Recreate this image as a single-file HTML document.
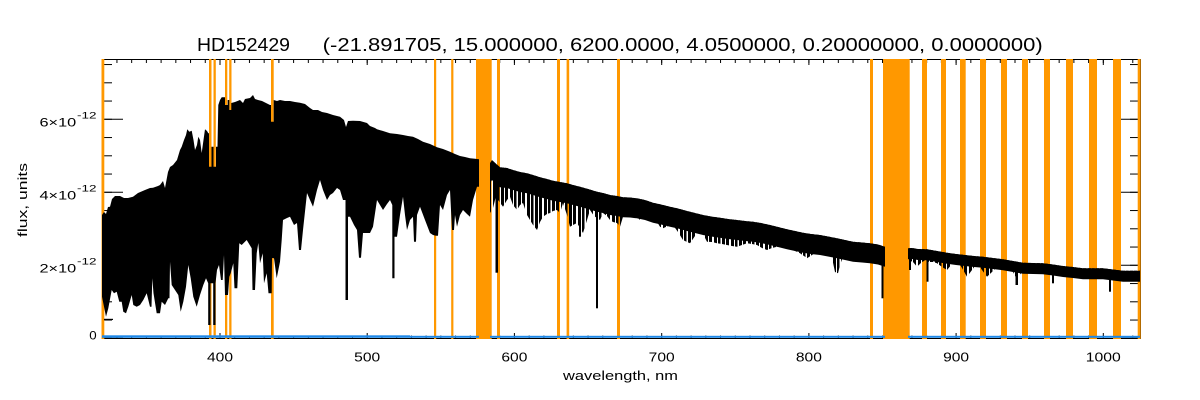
<!DOCTYPE html>
<html><head><meta charset="utf-8"><style>
html,body{margin:0;padding:0;background:#fff;}
svg{display:block;}
text{font-family:"Liberation Sans",sans-serif;fill:#000;}
</style></head><body>
<svg width="1200" height="400" viewBox="0 0 1200 400" xmlns="http://www.w3.org/2000/svg" xmlns:xlink="http://www.w3.org/1999/xlink">
<defs>
<pattern id="xt" patternUnits="userSpaceOnUse" x="101.72" y="0" width="14.7222" height="400"><rect x="0" y="0" width="1" height="400" fill="#000"/></pattern>
<pattern id="yt" patternUnits="userSpaceOnUse" x="0" y="337.8" width="1200" height="18.25"><rect x="0" y="0" width="1200" height="1" fill="#000"/></pattern>
<pattern id="comb" patternUnits="userSpaceOnUse" x="0" y="0" width="17" height="400">
<rect x="0" y="0" width="3" height="400" fill="#000"/>
<rect x="4" y="0" width="2.5" height="400" fill="#000"/>
<rect x="8" y="0" width="3" height="400" fill="#000"/>
<rect x="12" y="0" width="3" height="400" fill="#000"/>
</pattern>
<path id="UB" d="M490,163.3 L492,160 494,162 500,167.3 507,168 513,170 520,172 527,173.3 533,175 540,177.3 547,179 553,180.7 560,182 567,183.3 573,185 580,186.7 588,189 597,191.7 603,193 610,195 617,196 623,197.3 630,197.5 636.7,198.3 645,200 653,202.7 661,204.5 670,206.7 678,208.5 687,211 695,213 703,215 711,216.5 720,217.7 728,219 737,220 745,221 753,221.7 761,223 770,225 778,227 787,229.3 795,231 803,232.7 811,234 820,235 828,236.5 837,238.3 845,240 853,241.7 862,242.5 870,243.3 878,244.5 885,246.7 L885,400 L490,400 Z"/>
<path id="UC" d="M908,248.3 L912,248 918,249 927,249.3 937,251 947,252.7 956,254 965,255 974,256 983,256.7 993,258 1003,259.3 1013,261 1023,262.7 1033,263 1043,263.3 1053,264.5 1063,266 1073,267 1083,268.3 1093,268.3 1103,268.3 1113,269.5 1123,270.7 1131,270.7 1140,270.7 L1140,400 L908,400 Z"/>
<mask id="bandB" maskUnits="userSpaceOnUse" x="0" y="0" width="1200" height="400">
<use xlink:href="#UB" href="#UB" fill="#fff"/>
<use xlink:href="#UB" href="#UB" fill="#000" transform="translate(0,20)"/>
</mask>
<mask id="bandC" maskUnits="userSpaceOnUse" x="0" y="0" width="1200" height="400">
<use xlink:href="#UC" href="#UC" fill="#fff"/>
<use xlink:href="#UC" href="#UC" fill="#000" transform="translate(0,11)"/>
</mask>
</defs>
<rect width="1200" height="400" fill="#fff"/>

<!-- title -->
<text x="197" y="51" font-size="18" textLength="93" lengthAdjust="spacingAndGlyphs">HD152429</text>
<text x="322.7" y="51" font-size="18" textLength="720" lengthAdjust="spacingAndGlyphs">(-21.891705, 15.000000, 6200.0000, 4.0500000, 0.20000000, 0.0000000)</text>

<!-- axes box -->
<rect x="102.5" y="59.5" width="1038" height="279" fill="none" stroke="#000" stroke-width="1"/>
<!-- minor ticks -->
<rect x="102" y="335.5" width="1038" height="3" fill="url(#xt)"/>
<rect x="102" y="60" width="1038" height="3" fill="url(#xt)"/>
<rect x="102" y="60" width="10" height="279" fill="url(#yt)"/>
<rect x="1130" y="60" width="10" height="279" fill="url(#yt)"/>
<!-- major ticks -->
<path d="M220,339V333M367.2,339V333M514.4,339V333M661.7,339V333M808.9,339V333M956.1,339V333M1103.3,339V333
M220,59V65M367.2,59V65M514.4,59V65M661.7,59V65M808.9,59V65M956.1,59V65M1103.3,59V65
M102,119.3H123M102,192.3H123M102,265.3H123M102,338.3H123
M1140,119.3H1119M1140,192.3H1119M1140,265.3H1119M1140,338.3H1119" stroke="#000" stroke-width="1" fill="none"/>

<!-- tick labels -->
<g font-size="13" text-anchor="middle">
<text x="220" y="361.5" textLength="26" lengthAdjust="spacingAndGlyphs">400</text>
<text x="367.2" y="361.5" textLength="26" lengthAdjust="spacingAndGlyphs">500</text>
<text x="514.4" y="361.5" textLength="26" lengthAdjust="spacingAndGlyphs">600</text>
<text x="661.7" y="361.5" textLength="26" lengthAdjust="spacingAndGlyphs">700</text>
<text x="808.9" y="361.5" textLength="26" lengthAdjust="spacingAndGlyphs">800</text>
<text x="956.1" y="361.5" textLength="26" lengthAdjust="spacingAndGlyphs">900</text>
<text x="1103.3" y="361.5" textLength="35" lengthAdjust="spacingAndGlyphs">1000</text>
</g>
<g font-size="12">
<text x="39.5" y="126.7" textLength="36.7" lengthAdjust="spacingAndGlyphs">6×10</text>
<text x="77" y="118.5" font-size="9" textLength="19.5" lengthAdjust="spacingAndGlyphs">-12</text>
<text x="39.5" y="199.7" textLength="36.7" lengthAdjust="spacingAndGlyphs">4×10</text>
<text x="77" y="191.5" font-size="9" textLength="19.5" lengthAdjust="spacingAndGlyphs">-12</text>
<text x="39.5" y="272.7" textLength="36.7" lengthAdjust="spacingAndGlyphs">2×10</text>
<text x="77" y="264.5" font-size="9" textLength="19.5" lengthAdjust="spacingAndGlyphs">-12</text>
<text x="89.3" y="339.3" textLength="7.4" lengthAdjust="spacingAndGlyphs">0</text>
</g>
<text x="563" y="380" font-size="13" textLength="115" lengthAdjust="spacingAndGlyphs">wavelength, nm</text>
<text transform="translate(27,237) rotate(-90)" x="0" y="0" font-size="13" textLength="74" lengthAdjust="spacingAndGlyphs">flux, units</text>

<!-- orange bands -->
<g fill="#ff9800">
<rect x="101.5" y="59" width="2.8" height="280"/>
<rect x="209" y="59" width="2.5" height="280"/>
<rect x="213.5" y="59" width="2.3" height="280"/>
<rect x="225" y="59" width="2.3" height="280"/>
<rect x="229.2" y="59" width="2.3" height="280"/>
<rect x="271" y="59" width="2.7" height="280"/>
<rect x="434" y="59" width="2.2" height="280"/>
<rect x="451.2" y="59" width="2.2" height="280"/>
<rect x="476" y="59" width="15.7" height="280"/>
<rect x="497" y="59" width="3" height="280"/>
<rect x="557" y="59" width="3" height="280"/>
<rect x="566.6" y="59" width="2.6" height="280"/>
<rect x="617" y="59" width="3" height="280"/>
<rect x="870" y="59" width="3" height="280"/>
<rect x="883" y="59" width="26.7" height="280"/>
<rect x="922" y="59" width="5" height="280"/>
<rect x="941" y="59" width="5" height="280"/>
<rect x="960" y="59" width="5.7" height="280"/>
<rect x="980" y="59" width="6" height="280"/>
<rect x="1001" y="59" width="6" height="280"/>
<rect x="1022" y="59" width="6" height="280"/>
<rect x="1044" y="59" width="6" height="280"/>
<rect x="1066" y="59" width="7" height="280"/>
<rect x="1089" y="59" width="8" height="280"/>
<rect x="1113" y="59" width="8" height="280"/>
<rect x="1137.7" y="59" width="3" height="280"/>
</g>

<!-- spectrum: segment A (solid) -->
<path fill="#000" fill-rule="evenodd" d="
M102,215 L104,212 106,214 108,207 110,206.7 112,199 115,196 120,196 124,198 128,198 133,196.7 138,193 145,190 150,188 153,187.7 158,186 160,185 163,181 165,188 168,172 170,167 173,165 177,160 180,150 181.7,146.7 184,140 186,135 187.3,129.3 189.3,131.7 191.7,130.7 193.5,140 195,150 197,145 198.3,136.7 200,140 201.7,153 203.5,140 205,129.3 207,131 208.3,133.3 209,133.3 209,166.7 211.5,166.7 211.5,146.7 213.5,146.7 213.5,166.7 216,166.7 216,146.7 217.5,146.7 218.3,105 220,100 221.7,97.3 225,97.3 225,105 227.7,105 227.7,100 229.3,100 229.3,110 231.3,110 231.3,103 235,102 240,100 243,103 245,99 250,98 253,95 255,99 258,100 262,101 266,103 270,105 271,105 271,121.7 273.7,121.7 273.7,100 277,101 280,100 285,101 290,101 295,102 300,102.7 305,104 310,108 313,110 318,110 322,112 327,113 333,115 340,116.7 344,120 346,127 348,121 353,120.7 360,121 367,123 370,126 375,128 377,129.3 383,131 390,133.3 397,134 403,135 408,136 413,136.7 418,139 423,141.7 430,144 437,147.3 443,149 450,151.7 455,154 460,156 465,157 470,158.3 475,158.8 479,159.3 L479,400 L102,400 Z
M102,296.7 L104,306.7 106,316.7 108.3,308.3 111.7,290 114,293.3 116.7,291.7 119.3,301.7 121.7,301.7 123.3,311.7 126,313.3 128.3,306.7 131.7,295 133.3,305 136.7,306.7 140,305 143.3,300 146.7,293.3 150,306.7 151.5,306.7 152.3,278.3 153.5,293.3 156.7,313.3 160,313.3 161.7,301.7 165,305 168.3,298.3 169.5,298.3 170,261.7 171.7,285 175,290 178.3,295 180.7,311.7 183.3,301.7 186,286.7 188.3,265 190.7,278.3 193.3,296.7 196.7,306.7 200,295 203.3,285 206,278.3 208.2,283.3 208.2,325 210.5,325 210.5,283.3 213.2,283.3 213.2,325 215.5,325 215.5,283.3 217,270 219,265 221,280 222.7,280 224,255 225,295 228,295 229.3,276.7 230.7,273.3 233.3,263.3 234.5,288.3 237.3,288.3 239.3,243.3 241.7,245 246.7,240 251.7,248.3 252.5,290 255,290 256.7,253.3 258.3,243 260,263.3 262.7,253.3 264,283.3 266.7,273.3 268.5,293.3 271.7,293.3 272,258 274,258.3 276.7,278.3 280,261.7 281.7,240 283,220 287,218 290,216.7 294,225 297,223 299,250 301,250 303,230 307,193 310,200 313,206.7 317,190 320,180 323,190 327,200 330,195 333,193 337,188 340,190 343,200 345.5,200 345.5,300 348,300 348,216.7 350,216.7 354,225 357,230 359,257.7 361,257.7 363,233 367,233 370,233 373,226.7 377,200 380,205 383,210 387,204 390,200 392.3,205 392.3,278.3 394.5,278.3 394.5,236.7 397,236.7 400,215 403,196.7 405,215 407,230 410,220 413,216.7 414,241.7 416,241.7 417,215 420,206.7 425,220 430,233 433,235 436,235.7 438,235.7 440,205 443,210 447,195 450,190 452,230 454,230 455,215 457,226.7 460,215 463,210 467,214 470,216.7 473,200 477,186.7 479,186.7 L479,400 L102,400 Z"/>

<!-- segments B and C: comb-textured absorption region -->
<path fill="url(#comb)" fill-rule="evenodd" d="
M490,163.3 L492,160 494,162 500,167.3 507,168 513,170 520,172 527,173.3 533,175 540,177.3 547,179 553,180.7 560,182 567,183.3 573,185 580,186.7 588,189 597,191.7 603,193 610,195 617,196 623,197.3 630,197.5 636.7,198.3 645,200 653,202.7 661,204.5 670,206.7 678,208.5 687,211 695,213 703,215 711,216.5 720,217.7 728,219 737,220 745,221 753,221.7 761,223 770,225 778,227 787,229.3 795,231 803,232.7 811,234 820,235 828,236.5 837,238.3 845,240 853,241.7 862,242.5 870,243.3 878,244.5 885,246.7 L885,400 L490,400 Z
M490,213 L493,208 495.5,198 498,200 503,206.7 507,200 510,196.7 513,205 517,210 520,205 523,203 527,215 530,220 533,225 537,230 540,222 543,216.7 547,214 550,213 553,211 557,210 560,213 563,203 567,215 570,226.7 573,225 577,223 583,233 587,220 590,210 594,216 600,220 603,213 607,216 610,220 613,222 617,223 620,226.7 623,216.7 627,216.7 630,214 633,213.3 637,216.7 640,220 643,215 647,218 650,220 653,221.7 657,221.7 660,226.7 663,228.3 668,226 673,225 678,232 683,240 687,242 690,243.3 695,236 700,230 704,236 707,241.7 712,242 717,243.3 722,244 727,245 732,246 737,246.7 742,245 747,243.3 752,244 757,245 762,248 767,250 772,248 777,246.7 782,247 787,248.3 793,250 800,253.3 804,256 807,258.3 812,255 817,251.7 822,251 827,250 832,258 835,272 838,273.3 840,265 843,256.7 848,253 853,250 857,255 860,261.7 865,260 870,260 875,262 877,263.3 880,258 885,250 L885,400 L490,400 Z
M908,248.3 L912,248 918,249 927,249.3 937,251 947,252.7 956,254 965,255 974,256 983,256.7 993,258 1003,259.3 1013,261 1023,262.7 1033,263 1043,263.3 1053,264.5 1063,266 1073,267 1083,268.3 1093,268.3 1103,268.3 1113,269.5 1123,270.7 1131,270.7 1140,270.7 L1140,400 L908,400 Z
M908,260 L913,262 917,266.7 922,262 926,260 929,262 933,262 937,263.3 942,267 947,270 952,264 957,260 962,268 967,276.7 972,270 977,263.3 982,270 987,276.7 992,272 997,266.7 1002,266 1007,266.7 1012,270 1015.5,276.7 1018,276.7 1022,272 1027,270 1032,272 1037,273.3 1043,272 1050,270.7 1056,272 1063,273.3 1070,273 1077,274 1083,273.3 1090,275 1097,276 1103,276.7 1108,278 1112,280 1117,276.7 1122,278 1127,280 1133,279 1140,278.3 L1140,400 L908,400 Z"/>
<!-- solid continuum bands -->
<rect x="0" y="0" width="1200" height="400" fill="#000" mask="url(#bandB)"/>
<rect x="0" y="0" width="1200" height="400" fill="#000" mask="url(#bandC)"/>
<!-- deep isolated lines -->
<g fill="#000">
<rect x="495.5" y="170" width="2.5" height="102.7"/>
<rect x="579" y="195" width="2" height="41.7"/>
<rect x="596" y="200" width="2" height="108.3"/>
<rect x="881.5" y="255" width="2" height="43.3"/>
<rect x="909" y="255" width="2" height="15"/>
<rect x="926.5" y="255" width="2" height="26.7"/>
<rect x="1015.5" y="265" width="2.5" height="20"/>
<rect x="1052" y="270" width="2" height="13.3"/>
<rect x="1109" y="272" width="2" height="19.7"/>
<rect x="104" y="318.8" width="9" height="1.2"/>
</g>

<!-- blue series -->
<g fill="#1e88e8">
<rect x="102" y="335.3" width="308" height="2.5"/>
<rect x="410" y="335.8" width="69" height="2"/>
<rect x="490" y="335.8" width="395" height="2"/>
<rect x="908" y="335.8" width="232" height="2"/>
</g>
</svg>
</body></html>
